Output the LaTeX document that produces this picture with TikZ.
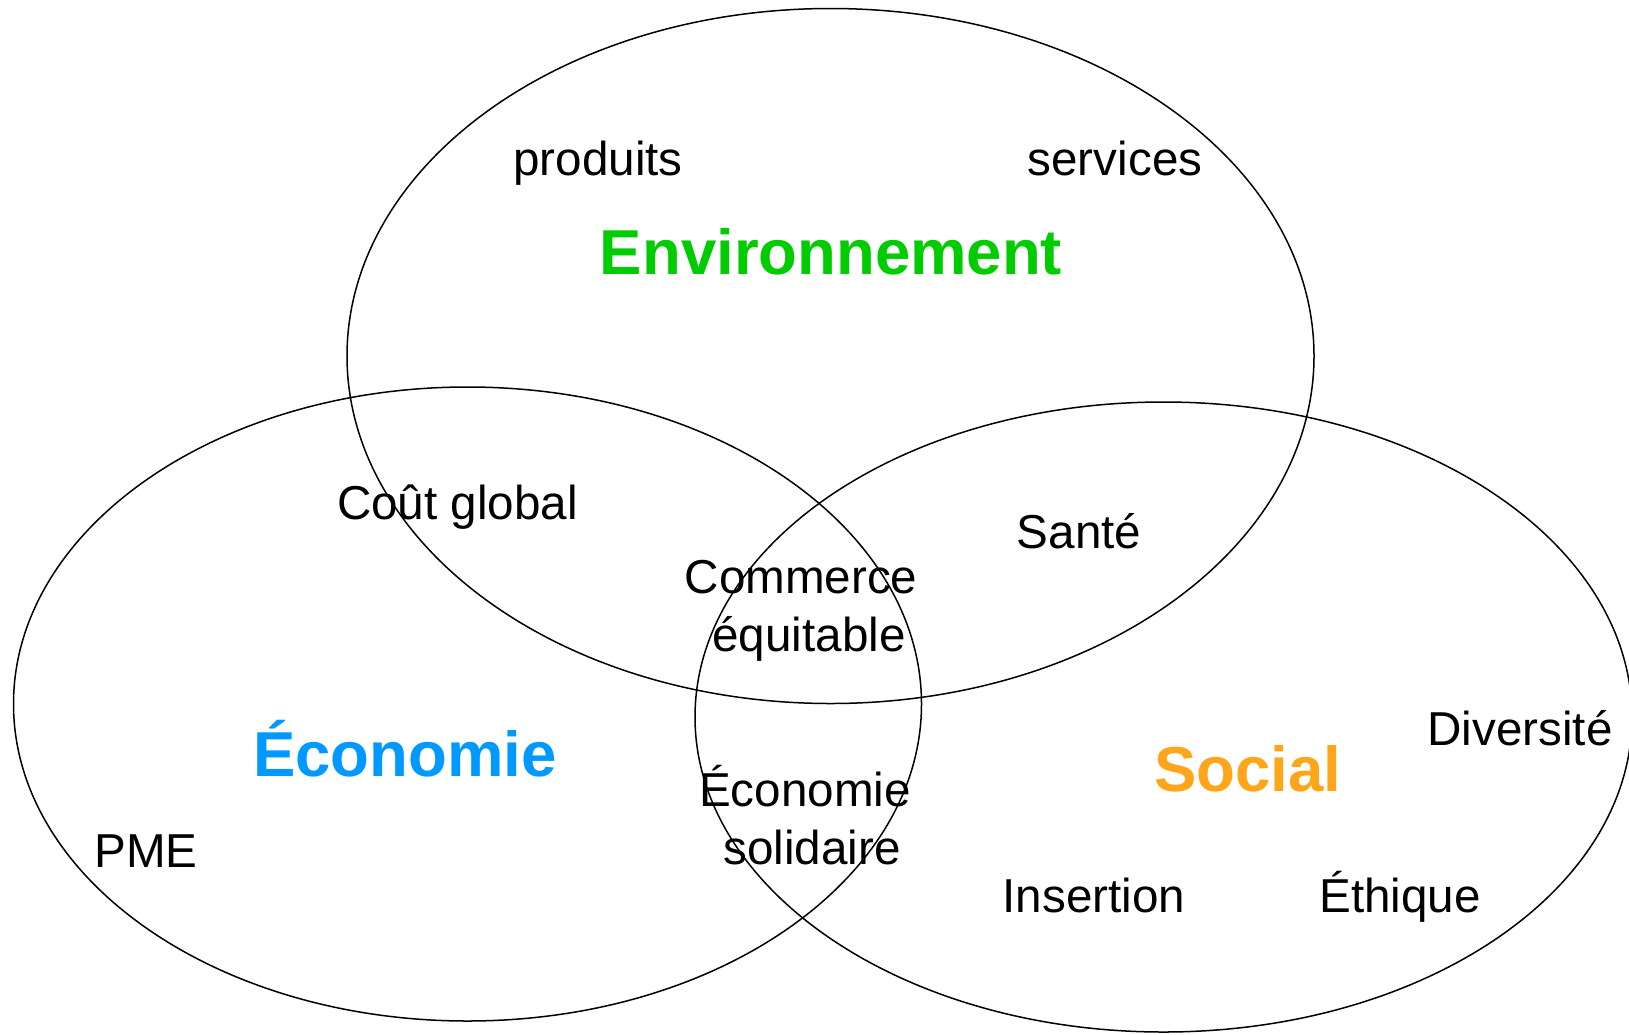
\documentclass[tikz,border=0pt]{standalone}
\usepackage{fontspec}
\setmainfont{Liberation Sans}
\definecolor{envgreen}{RGB}{0,204,0}
\definecolor{ecoblue}{RGB}{0,153,255}
\definecolor{socorange}{RGB}{255,165,26}
\begin{document}
\begin{tikzpicture}[x=1pt,y=-1pt,
  circ/.style={draw=black, line width=1.5pt},
  lbl/.style={inner sep=0pt, anchor=base, text=black, font=\fontsize{47.6}{58}\selectfont},
  ttl/.style={inner sep=0pt, anchor=base, font=\fontsize{63.5}{70}\selectfont\bfseries}]
\useasboundingbox[fill=white] (0,0) rectangle (1629,1034);
% circles
\coordinate (cenv) at (830.5,356);
\coordinate (ceco) at (467.5,704);
\coordinate (csoc) at (1163.5,717);
\draw[circ] (cenv) ellipse [x radius=483.5pt, y radius=347.5pt];
\draw[circ] (ceco) ellipse [x radius=454pt, y radius=317pt];
\draw[circ] (csoc) ellipse [x radius=468.5pt, y radius=315pt];
% titles
\node[ttl, text=envgreen] (tenv) at (831,274) {Environnement};
\node[ttl, text=ecoblue] (teco) at (405,776) {Économie};
\node[ttl, text=socorange] (tsoc) at (1248,791) {Social};
% labels
\node[lbl] (produits) at (598,175) {produits};
\node[lbl] (services) at (1115,175) {services};
\node[lbl] (cout) at (457.5,519) {Coût global};
\node[lbl] (sante) at (1079,548) {Santé};
\node[lbl] (commerce) at (805,593) {\begin{tabular}[t]{@{}c@{}}Commerce\hspace*{8pt}\\\hspace*{8pt}équitable\end{tabular}};
\node[lbl] (ecosol) at (808.5,806) {\begin{tabular}[t]{@{}c@{}}Économie\hspace*{7pt}\\\hspace*{7pt}solidaire\end{tabular}};
\node[lbl] (pme) at (146,867) {PME};
\node[lbl] (diversite) at (1520,745) {Diversité};
\node[lbl] (insertion) at (1094,912) {Insertion};
\node[lbl] (ethique) at (1400,912) {Éthique};
\end{tikzpicture}
\end{document}
